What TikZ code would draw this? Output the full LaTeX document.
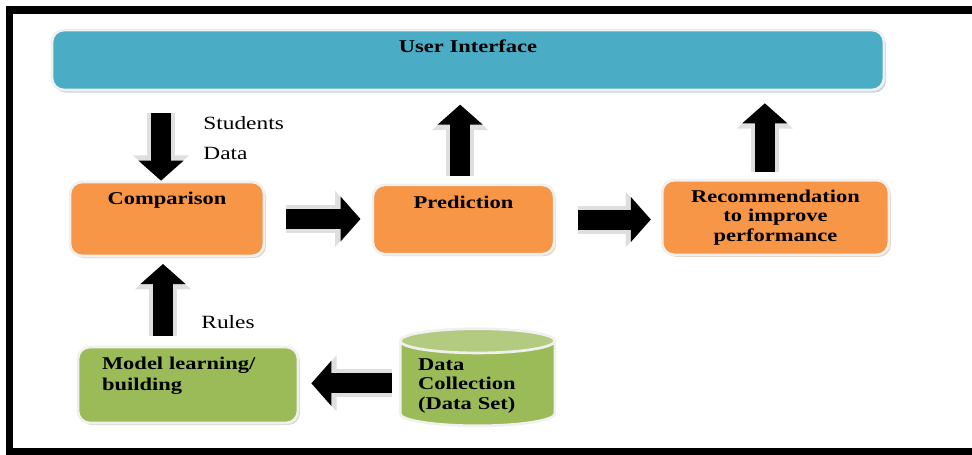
\documentclass[tikz,border=0pt]{standalone}
\usepackage{fontspec}
\setmainfont{Liberation Serif}[FakeStretch=1.25]
\usetikzlibrary{arrows.meta,shapes.geometric,shadows}
\definecolor{uiblue}{HTML}{4BACC6}
\definecolor{boxorange}{HTML}{F79646}
\definecolor{boxgreen}{HTML}{9BBB59}
\definecolor{cyltop}{HTML}{B3CB80}
\definecolor{rim}{HTML}{F0F0F0}
\definecolor{uishade}{HTML}{93ACB8}
\definecolor{orshade}{HTML}{CFA98A}
\definecolor{grshade}{HTML}{A9B393}
\tikzset{
  box/.style={draw=rim, line width=2pt, rounded corners=9pt,
    font=\bfseries\fontsize{13.5}{16}\selectfont, inner xsep=4pt, inner ysep=3pt},
  topbox/.style={box, text height=13.5pt},
  orangebox/.style={fill=boxorange, drop shadow={shadow xshift=1.5pt, shadow yshift=-1.5pt, fill=orshade}},
  greenbox/.style={fill=boxgreen, drop shadow={shadow xshift=1.5pt, shadow yshift=-1.5pt, fill=grshade}},
  blockarrow/.style={line width=15pt, -{Triangle[length=15pt,width=33pt]},
    preaction={draw=rim!85!gray, line width=21pt, -{Triangle[length=19pt,width=41pt]}}},
  side/.style={font=\fontsize{14}{16}\selectfont}
}
\begin{document}
\begin{tikzpicture}[x=0.75pt,y=-0.75pt]
  \useasboundingbox (0,0) rectangle (972,454);
  \draw[line width=5.5pt] (972,10) -- (9.5,10) -- (9.5,451.5) -- (972,451.5);

  \node[topbox, fill=uiblue, minimum width=624pt, text depth=25.5pt,
    drop shadow={shadow xshift=1.5pt, shadow yshift=-2pt, fill=uishade}] (ui) at (468,60) {User Interface};
  \node[topbox, orangebox, minimum width=145.5pt, text depth=36pt] (cmp) at (167,219) {Comparison};
  \node[topbox, orangebox, minimum width=136pt, text depth=31pt, text height=15pt] (pred) at (463.5,219.5) {Prediction};
  \node[box, orangebox, minimum width=170pt, minimum height=56pt, text width=160pt, align=center,
    font=\bfseries\fontsize{13.5}{14.5}\selectfont] (rec) at (775.5,217.5) {Recommendation\\ to improve\\ performance};
  \node[topbox, greenbox, text width=129pt, inner xsep=18pt, align=left, text depth=37.5pt] (model) at (188,385)
    {Model learning/\\ building};
  \node[cylinder, shape border rotate=90, aspect=0.19, draw=rim, line width=2pt,
    minimum width=116pt, minimum height=62pt, cylinder uses custom fill,
    cylinder body fill=boxgreen, cylinder end fill=cyltop, text width=89pt, align=left,
    font=\bfseries\fontsize{13.5}{14.6}\selectfont] (cyl) at (477.5,386)
    {Data\\ Collection\\ (Data Set)};

  \draw[blockarrow, shorten <=16.5pt] ([xshift=-4.5pt]ui.south -| cmp.north) -- ([xshift=-4.5pt]cmp.north)
    node[pos=0.36, right=21pt, side]{Students}
    node[pos=0.7, right=21pt, side]{Data};
  \draw[blockarrow, shorten <=6pt, shorten >=10pt] ([xshift=-2.5pt]pred.north) -- ([xshift=-2.5pt]pred.north |- ui.south);
  \draw[blockarrow, shorten <=5pt, shorten >=9pt] ([xshift=-8pt]rec.north) -- ([xshift=-8pt]rec.north |- ui.south);
  \draw[blockarrow, shorten <=7.5pt, shorten >=5pt] ([xshift=-3pt]cmp.south |- model.north) -- ([xshift=-3pt]cmp.south)
    node[pos=0.27, right=18pt, side]{Rules};
  \draw[blockarrow, shorten <=15.75pt, shorten >=8.25pt] (cmp.east) -- (cmp.east -| pred.west);
  \draw[blockarrow, shorten <=17pt, shorten >=7.5pt] (pred.east) -- (pred.east -| rec.west);
  \draw[blockarrow, shorten <=5pt, shorten >=9pt] ([yshift=2pt]cyl.west) -- ([yshift=2pt]cyl.west -| model.east);
\end{tikzpicture}
\end{document}
